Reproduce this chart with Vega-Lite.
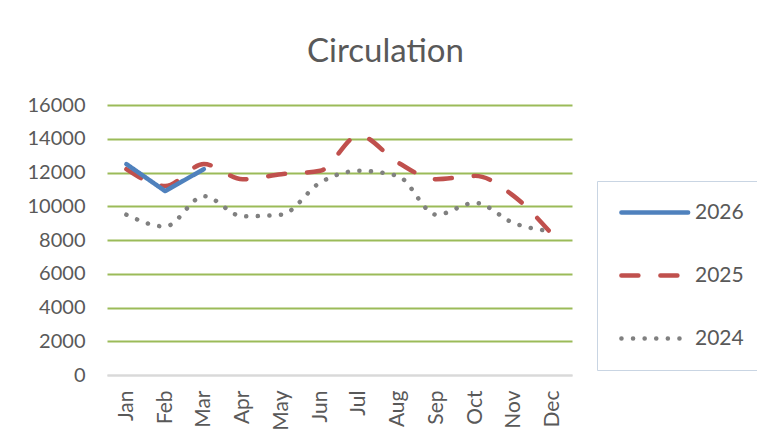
{
  "$schema": "https://vega.github.io/schema/vega-lite/v6.json",
  "autosize": "none",
  "width": 465,
  "height": 270,
  "padding": {"left": 107, "top": 105, "right": 185, "bottom": 72},
  "background": "#ffffff",
  "config": {
    "font": "Lato",
    "view": {"stroke": null}
  },
  "title": {
    "text": "Circulation",
    "fontSize": 33,
    "fontWeight": "normal",
    "color": "#595959",
    "anchor": "middle",
    "baseline": "alphabetic",
    "offset": 0,
    "dx": 46
  },
  "data": {
    "values": [
      {"month": "Jan", "series": "2026", "value": 12500},
      {"month": "Feb", "series": "2026", "value": 10900},
      {"month": "Mar", "series": "2026", "value": 12200},
      {"month": "Jan", "series": "2025", "value": 12200},
      {"month": "Feb", "series": "2025", "value": 11200},
      {"month": "Mar", "series": "2025", "value": 12500},
      {"month": "Apr", "series": "2025", "value": 11600},
      {"month": "May", "series": "2025", "value": 11900},
      {"month": "Jun", "series": "2025", "value": 12100},
      {"month": "Jul", "series": "2025", "value": 14200},
      {"month": "Aug", "series": "2025", "value": 12600},
      {"month": "Sep", "series": "2025", "value": 11600},
      {"month": "Oct", "series": "2025", "value": 11800},
      {"month": "Nov", "series": "2025", "value": 10600},
      {"month": "Dec", "series": "2025", "value": 8300},
      {"month": "Jan", "series": "2024", "value": 9500},
      {"month": "Feb", "series": "2024", "value": 8800},
      {"month": "Mar", "series": "2024", "value": 10600},
      {"month": "Apr", "series": "2024", "value": 9400},
      {"month": "May", "series": "2024", "value": 9500},
      {"month": "Jun", "series": "2024", "value": 11400},
      {"month": "Jul", "series": "2024", "value": 12100},
      {"month": "Aug", "series": "2024", "value": 11800},
      {"month": "Sep", "series": "2024", "value": 9500},
      {"month": "Oct", "series": "2024", "value": 10200},
      {"month": "Nov", "series": "2024", "value": 9000},
      {"month": "Dec", "series": "2024", "value": 8500}
    ]
  },
  "encoding": {
    "x": {
      "field": "month",
      "type": "ordinal",
      "sort": ["Jan","Feb","Mar","Apr","May","Jun","Jul","Aug","Sep","Oct","Nov","Dec"],
      "scale": {"type": "point", "padding": 0.5},
      "axis": {
        "title": null,
        "labelAngle": 270,
        "labelFontSize": 21,
        "labelColor": "#595959",
        "labelPadding": 15,
        "ticks": false,
        "domainColor": "#D9D9D9",
        "domainWidth": 2,
        "grid": false,
        "zindex": 1
      }
    },
    "y": {
      "field": "value",
      "type": "quantitative",
      "scale": {"domain": [0, 16000], "nice": false},
      "axis": {
        "title": null,
        "values": [0, 2000, 4000, 6000, 8000, 10000, 12000, 14000, 16000],
        "format": "d",
        "labelFontSize": 20,
        "labelColor": "#595959",
        "labelPadding": 22,
        "ticks": false,
        "domain": false,
        "grid": true,
        "gridColor": {"condition": {"test": "datum.value === 0", "value": "#D9D9D9"}, "value": "#9BBB59"},
        "gridWidth": 2
      }
    },
    "color": {
      "field": "series",
      "type": "nominal",
      "scale": {"domain": ["2026", "2025", "2024"], "range": ["#4F81BD", "#C0504D", "#808080"]},
      "legend": {
        "title": null,
        "orient": "none",
        "legendX": 490,
        "legendY": 76,
        "padding": 21,
        "strokeColor": "#C9D5E3",
        "fillColor": "#ffffff",
        "symbolType": "M-1,0H8.4",
        "symbolSize": 201.6,
        "symbolStrokeWidth": 4.5,
        "labelFontSize": 21,
        "labelColor": "#595959",
        "labelOffset": 56,
        "rowPadding": 41,
        "encode": {"symbols": {"update": {"strokeCap": {"value": "round"}, "fill": {"value": "transparent"}}}}
      }
    },
    "strokeDash": {
      "field": "series",
      "type": "nominal",
      "scale": {"domain": ["2026", "2025", "2024"], "range": [[1, 0], [17, 22], [0.1, 11.5]]},
      "legend": null
    }
  },
  "layer": [
    {
      "transform": [{"filter": "datum.series !== '2026'"}],
      "mark": {"type": "line", "interpolate": "monotone", "strokeWidth": 4.5, "strokeCap": "round", "strokeJoin": "round"}
    },
    {
      "transform": [{"filter": "datum.series === '2026'"}],
      "mark": {"type": "line", "interpolate": "linear", "strokeWidth": 4.5, "strokeCap": "round", "strokeJoin": "round"}
    }
  ]
}
